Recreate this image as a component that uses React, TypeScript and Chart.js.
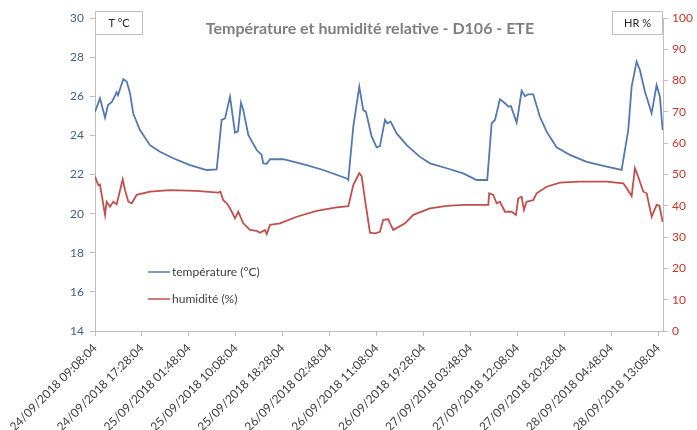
import React, { useEffect, useRef } from "react";
import { Chart, registerables } from "chart.js";

Chart.register(...registerables);

const tickLabels = [
  "24/09/2018 09:08:04",
  "24/09/2018 17:28:04",
  "25/09/2018 01:48:04",
  "25/09/2018 10:08:04",
  "25/09/2018 18:28:04",
  "26/09/2018 02:48:04",
  "26/09/2018 11:08:04",
  "26/09/2018 19:28:04",
  "27/09/2018 03:48:04",
  "27/09/2018 12:08:04",
  "27/09/2018 20:28:04",
  "28/09/2018 04:48:04",
  "28/09/2018 13:08:04",
];
const tickStepMinutes = 500;

// minutes since 24/09/2018 09:08:04
const tempMinutes = [
  0, 53, 107, 138, 178, 231, 245, 301, 338, 373, 408, 479, 586, 692, 834, 1012, 1190, 1296,
  1349, 1385, 1438, 1491, 1523, 1555, 1579, 1633, 1722, 1775, 1792, 1829, 1864, 2005, 2255,
  2431, 2681, 2698, 2751, 2815, 2857, 2886, 2947, 3000, 3035, 3089, 3113, 3149, 3213, 3320,
  3461, 3568, 3746, 3922, 4065, 4178, 4225, 4260, 4313, 4367, 4402, 4430, 4491, 4508, 4544,
  4580, 4615, 4668, 4739, 4810, 4917, 5059, 5237, 5450, 5609, 5680, 5716, 5769, 5804, 5858,
  5929, 5982, 6017, 6046,
];
const tempValues = [
  25.2, 25.9, 24.9, 25.55, 25.7, 26.2, 26.05, 26.87, 26.75, 26.15, 25.1, 24.27, 23.5, 23.16,
  22.83, 22.48, 22.23, 22.26, 24.79, 24.87, 25.98, 24.14, 24.2, 25.67, 25.3, 24.02, 23.25,
  23.0, 22.57, 22.55, 22.78, 22.78, 22.48, 22.23, 21.8, 21.72, 24.44, 26.49, 25.3, 25.2, 23.93,
  23.39, 23.45, 24.79, 24.62, 24.7, 24.1, 23.5, 22.9, 22.57, 22.32, 22.06, 21.72, 21.72, 24.62,
  24.79, 25.84, 25.64, 25.47, 25.5, 24.65, 25.13, 26.28, 26.0, 26.1, 26.1, 24.95, 24.19, 23.39,
  23.0, 22.65, 22.4, 22.23, 24.27, 26.49, 27.77, 27.34, 26.23, 25.13, 26.57, 25.98, 24.27,
];

const humMinutes = [
  0, 35, 53, 107, 124, 160, 195, 231, 295, 320, 355, 391, 444, 586, 799, 1083, 1313, 1336,
  1366, 1403, 1438, 1491, 1526, 1579, 1651, 1722, 1757, 1810, 1829, 1864, 1970, 2148, 2361,
  2574, 2698, 2751, 2815, 2840, 2876, 2929, 2982, 3035, 3070, 3124, 3142, 3177, 3302, 3390,
  3568, 3746, 3922, 4189, 4199, 4242, 4278, 4313, 4367, 4438, 4484, 4508, 4544, 4569, 4597,
  4668, 4704, 4810, 4952, 5165, 5450, 5627, 5663, 5716, 5751, 5786, 5840, 5876, 5929, 5982,
  6012, 6046,
];
const humValues = [
  49.3, 46.6, 46.8, 37.1, 41.3, 39.7, 41.3, 40.5, 48.5, 45.0, 41.3, 40.8, 43.5, 44.5, 45.0,
  44.8, 44.2, 44.5, 41.8, 40.8, 39.2, 36.0, 38.1, 34.4, 32.3, 32.0, 31.4, 32.3, 31.0, 33.9,
  34.4, 36.5, 38.4, 39.5, 39.9, 46.6, 50.4, 49.5, 41.9, 31.4, 31.2, 31.7, 35.5, 35.7, 34.4,
  32.3, 34.4, 37.1, 39.2, 40.0, 40.3, 40.3, 44.0, 43.5, 40.8, 41.3, 38.1, 38.1, 37.1, 42.4,
  42.9, 38.7, 41.3, 41.8, 44.0, 46.1, 47.4, 47.7, 47.7, 47.2, 45.6, 43.1, 52.0, 49.3, 44.5,
  44.0, 36.5, 40.3, 40.0, 34.9,
];

const seriesNames = ["température (°C)", "humidité (%)"];
const titleText = "Température et humidité relative - D106 - ETE";
const leftUnit = "T °C";
const rightUnit = "HR %";

const BLUE = "#5479B0";
const RED = "#C0504D";
const FONT = "Lato, 'Open Sans', sans-serif";

const decorPlugin = {
  id: "decor",
  afterDraw(chart: any) {
    const ctx = chart.ctx;
    const area = chart.chartArea;
    ctx.save();
    ctx.font = `bold 16px ${FONT}`;
    ctx.fillStyle = "#7F7F7F";
    ctx.textAlign = "center";
    ctx.textBaseline = "middle";
    ctx.fillText(titleText, 370, 29);
    const box = (x: number, w: number, label: string) => {
      ctx.fillStyle = "#FFFFFF";
      ctx.fillRect(x, 11, w, 23);
      ctx.strokeStyle = "#BFBFBF";
      ctx.lineWidth = 1;
      ctx.strokeRect(x + 0.5, 11.5, w - 1, 23);
      ctx.fillStyle = "#262626";
      ctx.font = `11px ${FONT}`;
      ctx.textAlign = "center";
      ctx.textBaseline = "middle";
      ctx.fillText(label, x + w / 2, 23);
    };
    box(area.left, 48, leftUnit);
    box(area.right - 51, 51, rightUnit);
    const items = [
      { c: BLUE, t: seriesNames[0], y: 272 },
      { c: RED, t: seriesNames[1], y: 299 },
    ];
    items.forEach((it) => {
      ctx.strokeStyle = it.c;
      ctx.lineWidth = 1.5;
      ctx.beginPath();
      ctx.moveTo(148, it.y);
      ctx.lineTo(170, it.y);
      ctx.stroke();
      ctx.fillStyle = "#404040";
      ctx.font = `12px ${FONT}`;
      ctx.textAlign = "left";
      ctx.textBaseline = "middle";
      ctx.fillText(it.t, 172, it.y);
    });
    ctx.restore();
  },
};

export default function App() {
  const ref = useRef<HTMLCanvasElement | null>(null);
  useEffect(() => {
    document.body.style.margin = "0";
    const canvas = ref.current;
    if (!canvas) return;
    const chart = new Chart(canvas, {
      type: "line",
      data: {
        datasets: [
          {
            label: seriesNames[0],
            data: tempMinutes.map((m, i) => ({ x: m, y: tempValues[i] })),
            borderColor: BLUE,
            borderWidth: 1.8,
            pointRadius: 0,
            tension: 0,
            yAxisID: "yT",
          },
          {
            label: seriesNames[1],
            data: humMinutes.map((m, i) => ({ x: m, y: humValues[i] })),
            borderColor: RED,
            borderWidth: 1.8,
            pointRadius: 0,
            tension: 0,
            yAxisID: "yH",
          },
        ],
      },
      options: {
        animation: false,
        responsive: false,
        maintainAspectRatio: false,
        layout: { padding: { top: 18, left: 0, right: 0, bottom: 0 } },
        plugins: { legend: { display: false }, title: { display: false }, tooltip: { enabled: false } },
        scales: {
          x: {
            type: "linear",
            min: 0,
            max: 6050,
            ticks: {
              autoSkip: false,
              maxTicksLimit: 30,
              maxRotation: 45,
              minRotation: 45,
              color: "#404040",
              font: { family: FONT, size: 12 },
              padding: 5,
              callback: (v: any) => tickLabels[Math.round(Number(v) / tickStepMinutes)] ?? "",
            },
            afterBuildTicks: (axis: any) => {
              axis.ticks = tickLabels.map((_, i) => ({ value: i * tickStepMinutes }));
            },
            afterFit: (s: any) => {
              s.height = 99;
            },
            grid: { display: true, drawOnChartArea: false, drawTicks: true, tickLength: 5, color: "#BFBFBF" },
            border: { display: true, color: "#BFBFBF" },
          },
          yT: {
            type: "linear",
            position: "left",
            min: 14,
            max: 30,
            ticks: { stepSize: 2, color: "#44618C", font: { family: FONT, size: 12 }, padding: 6 },
            afterFit: (s: any) => {
              s.width = 95;
            },
            grid: { display: true, drawOnChartArea: false, drawTicks: true, tickLength: 5, color: "#BFBFBF" },
            border: { display: true, color: "#BFBFBF" },
          },
          yH: {
            type: "linear",
            position: "right",
            min: 0,
            max: 100,
            ticks: { stepSize: 10, color: "#C0392B", font: { family: FONT, size: 12 }, padding: 4 },
            afterFit: (s: any) => {
              s.width = 34;
            },
            grid: { display: true, drawOnChartArea: false, drawTicks: true, tickLength: 5, color: "#BFBFBF" },
            border: { display: true, color: "#BFBFBF" },
          },
        },
      } as any,
      plugins: [decorPlugin],
    });
    return () => chart.destroy();
  }, []);
  return <canvas ref={ref} width={697} height={430} style={{ display: "block" }} />;
}
